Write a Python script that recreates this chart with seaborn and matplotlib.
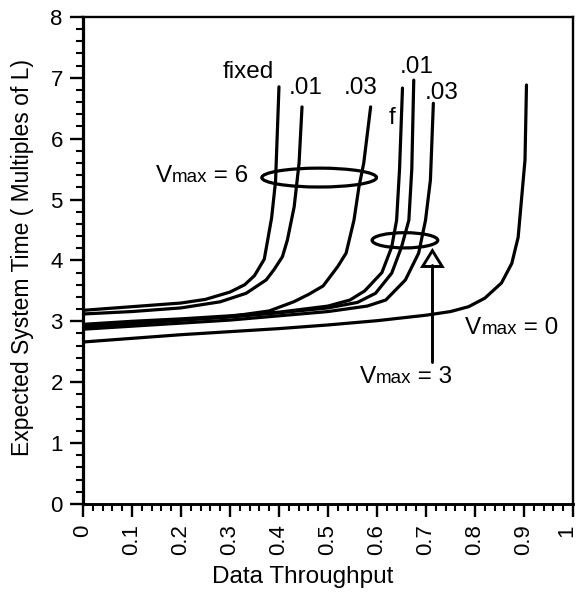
import matplotlib
matplotlib.use("Agg")
import matplotlib.pyplot as plt
from matplotlib.patches import Ellipse
from matplotlib.offsetbox import TextArea, HPacker, AnnotationBbox
from matplotlib.ticker import MultipleLocator
import matplotlib.transforms as mtransforms
import pandas as pd
import seaborn as sns

# Curves: expected system time vs. data throughput
x_v6_fixed = [0.0, 0.1, 0.2, 0.25, 0.3, 0.33, 0.35, 0.37, 0.385, 0.393, 0.40]
y_v6_fixed = [3.18, 3.24, 3.30, 3.36, 3.48, 3.60, 3.75, 4.02, 4.70, 5.30, 6.85]

x_v6_01 = [0.0, 0.1, 0.2, 0.28, 0.333, 0.374, 0.39, 0.407, 0.417, 0.431, 0.441, 0.447]
y_v6_01 = [3.12, 3.16, 3.22, 3.32, 3.46, 3.68, 3.85, 4.06, 4.33, 4.88, 5.60, 6.52]

x_v6_03 = [0.0, 0.1, 0.2, 0.3, 0.38, 0.43, 0.46, 0.49, 0.52, 0.537, 0.553, 0.563, 0.573, 0.587]
y_v6_03 = [2.90, 2.96, 3.02, 3.08, 3.17, 3.32, 3.44, 3.58, 3.90, 4.12, 4.66, 5.20, 5.60, 6.52]

x_v3_f = [0.0, 0.1, 0.2, 0.3, 0.4, 0.5, 0.545, 0.575, 0.61, 0.63, 0.64, 0.646, 0.652]
y_v3_f = [2.95, 3.00, 3.04, 3.09, 3.15, 3.25, 3.35, 3.50, 3.80, 4.22, 4.66, 5.50, 6.83]

x_v3_01 = [0.0, 0.1, 0.2, 0.3, 0.4, 0.5, 0.56, 0.597, 0.63, 0.65, 0.665, 0.671, 0.675]
y_v3_01 = [2.92, 2.97, 3.02, 3.07, 3.14, 3.22, 3.31, 3.46, 3.79, 4.22, 4.66, 5.50, 6.96]

x_v3_03 = [0.0, 0.1, 0.2, 0.3, 0.4, 0.5, 0.58, 0.618, 0.658, 0.685, 0.699, 0.709, 0.715]
y_v3_03 = [2.87, 2.92, 2.97, 3.02, 3.09, 3.16, 3.25, 3.35, 3.68, 4.12, 4.66, 5.32, 6.58]

x_v0 = [0.0, 0.1, 0.2, 0.3, 0.4, 0.5, 0.6, 0.7, 0.75, 0.787, 0.82, 0.854, 0.875, 0.888, 0.902, 0.905]
y_v0 = [2.66, 2.72, 2.78, 2.83, 2.88, 2.94, 3.01, 3.10, 3.16, 3.24, 3.38, 3.63, 3.95, 4.38, 5.65, 6.88]

series = {
    "v6_fixed": (x_v6_fixed, y_v6_fixed),
    "v6_01": (x_v6_01, y_v6_01),
    "v6_03": (x_v6_03, y_v6_03),
    "v3_f": (x_v3_f, y_v3_f),
    "v3_01": (x_v3_01, y_v3_01),
    "v3_03": (x_v3_03, y_v3_03),
    "v0": (x_v0, y_v0),
}

x_ticks = [0, 0.1, 0.2, 0.3, 0.4, 0.5, 0.6, 0.7, 0.8, 0.9, 1]
x_tick_labels = ["0", "0.1", "0.2", "0.3", "0.4", "0.5", "0.6", "0.7", "0.8", "0.9", "1"]
y_ticks = [0, 1, 2, 3, 4, 5, 6, 7, 8]

frames = [pd.DataFrame({"throughput": xs, "time": ys, "curve": name})
          for name, (xs, ys) in series.items()]
df = pd.concat(frames, ignore_index=True)

sns.set_theme(style="ticks")
plt.rcParams["font.family"] = ["Liberation Sans", "DejaVu Sans"]

fig = plt.figure(figsize=(5.8, 6.0), dpi=100)
ax = fig.add_axes([0.143, 0.16, 0.845, 0.812])

sns.lineplot(data=df, x="throughput", y="time", hue="curve", units="curve",
             estimator=None, sort=False, palette={k: "black" for k in series},
             linewidth=2.3, legend=False, ax=ax)

ax.set_xlim(0, 1)
ax.set_ylim(0, 8)
ax.set_xticks(x_ticks)
ax.set_xticklabels(x_tick_labels, rotation=90, fontsize=16)
ax.set_yticks(y_ticks)
ax.set_yticklabels([str(t) for t in y_ticks], fontsize=16)
ax.xaxis.set_minor_locator(MultipleLocator(0.02))
ax.yaxis.set_minor_locator(MultipleLocator(0.2))
ax.tick_params(axis="both", which="major", length=9.5, width=1.7, color="black",
               direction="out", pad=5, labelcolor="black")
ax.tick_params(axis="both", which="minor", length=5, width=1.5, color="black",
               direction="out")
for side, lw in [("left", 2.3), ("bottom", 2.1), ("top", 1.7), ("right", 1.7)]:
    ax.spines[side].set_visible(True)
    ax.spines[side].set_linewidth(lw)
    ax.spines[side].set_color("black")

# nudge the last x tick label so it stays inside the figure
last = ax.get_xticklabels()[-1]
last.set_transform(last.get_transform() +
                   mtransforms.ScaledTranslation(-6 / 100, 0, fig.dpi_scale_trans))

ax.set_xlabel("Data Throughput", fontsize=17.5, color="black")
ax.set_ylabel("Expected System Time ( Multiples of L)", fontsize=16.5, color="black")
ax.xaxis.set_label_coords(0.449, -0.128)
ax.yaxis.set_label_coords(-0.1, 0.506)

# Group ellipses
ax.add_patch(Ellipse((0.482, 5.36), 0.234, 0.31, fill=False, lw=2.3, ec="black"))
ax.add_patch(Ellipse((0.657, 4.33), 0.134, 0.25, fill=False, lw=2.3, ec="black"))

# Pointer for the Vmax = 3 group
ax.plot([0.713, 0.713], [2.33, 3.92], color="black", lw=2.1)
ax.add_patch(plt.Polygon([[0.693, 3.90], [0.733, 3.90], [0.713, 4.16]],
                         closed=True, fill=True, fc="white", ec="black", lw=2.1))


def vmax_label(value, xy, align):
    parts = [TextArea("V", textprops=dict(size=17.5, color="black")),
             TextArea("max", textprops=dict(size=13.5, color="black")),
             TextArea(" = " + value, textprops=dict(size=17.5, color="black"))]
    box = HPacker(children=parts, align="baseline", pad=0, sep=0)
    ab = AnnotationBbox(box, xy, xycoords="data", frameon=False,
                        box_alignment=align, pad=0)
    ax.add_artist(ab)


vmax_label("6", (0.338, 5.38), (1.0, 0.5))
vmax_label("0", (0.78, 2.89), (0.0, 0.5))
vmax_label("3", (0.659, 2.09), (0.5, 0.5))

label_kw = dict(fontsize=17.5, color="black", ha="center", va="center")
ax.text(0.337, 7.09, "fixed", **label_kw)
ax.text(0.455, 6.83, ".01", **label_kw)
ax.text(0.567, 6.83, ".03", **label_kw)
ax.text(0.63, 6.34, "f", **label_kw)
ax.text(0.681, 7.18, ".01", **label_kw)
ax.text(0.731, 6.75, ".03", **label_kw)

fig.savefig("out.png", dpi=100, facecolor="white")
